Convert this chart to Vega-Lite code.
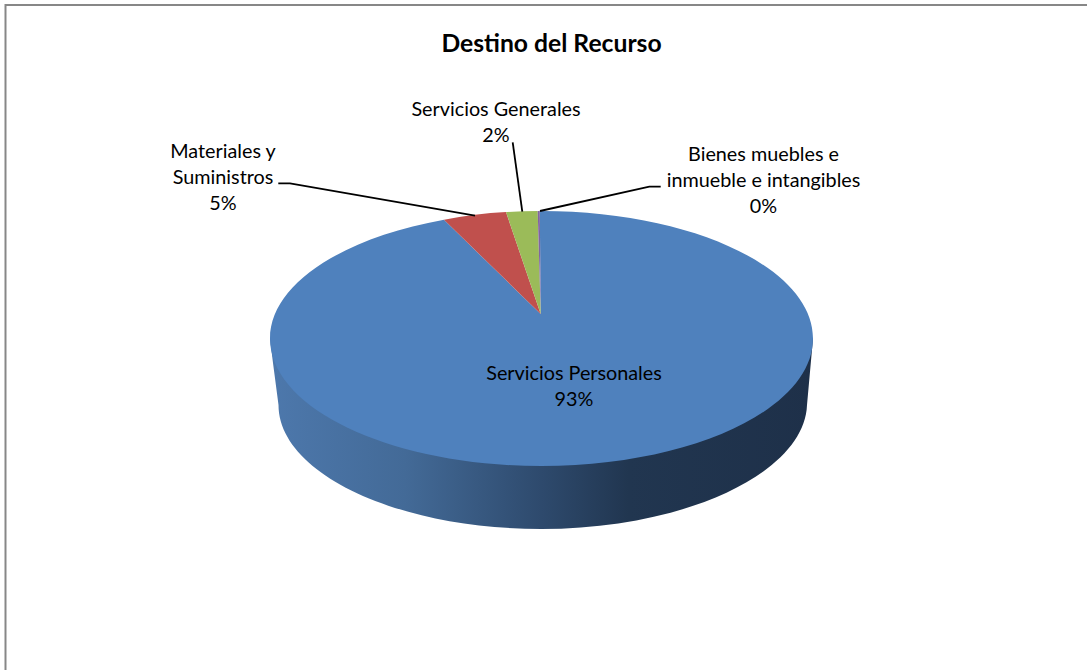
{
  "$schema": "https://vega.github.io/schema/vega-lite/v6.json",
  "width": 1087,
  "height": 670,
  "padding": 0,
  "autosize": {"type": "none"},
  "background": "white",
  "view": {"stroke": null},
  "title": {"text": "Destino del Recurso", "anchor": "middle", "offset": -52, "dx": 8, "dy": 25, "font": "Lato", "fontSize": 24.7, "fontWeight": "bold", "color": "#000000", "baseline": "alphabetic"},
  "config": {"text": {"font": "Lato", "fontSize": 19.8, "lineBreak": "\n", "lineHeight": 26, "color": "#000000", "align": "center", "baseline": "alphabetic"}},
  "datasets": {
    "slices": [
      {"category": "Servicios Personales", "share": 93, "label": "Servicios Personales\n93%"},
      {"category": "Materiales y Suministros", "share": 5, "label": "Materiales y\nSuministros\n5%"},
      {"category": "Servicios Generales", "share": 2, "label": "Servicios Generales\n2%"},
      {"category": "Bienes muebles e inmueble e intangibles", "share": 0, "label": "Bienes muebles e\ninmueble e intangibles\n0%"}
    ]
  },
  "data": {"name": "slices"},
  "resolve": {"scale": {"shape": "independent", "color": "independent"}},
  "layer": [
    {
      "data": {"values": [{"part": "chart frame"}]},
      "mark": {"type": "point", "size": 4, "opacity": 1, "filled": false, "stroke": "#878787", "strokeWidth": 2, "shape": "M-538,340L-538,-330L544,-330"},
      "encoding": {}
    },
    {
      "data": {"values": [{"part": "pie side wall"}]},
      "mark": {
        "type": "point", "size": 4, "opacity": 1, "filled": true, "strokeWidth": 0,
        "shape": "M-273.5,3.5L-270.5,28L-265,70C-265,138,-147,194,-2,194C141,194,261,138,263.5,70L269.5,3.5Z",
        "fill": {"gradient": "linear", "x1": 0, "y1": 0, "x2": 1, "y2": 0, "stops": [
          {"offset": 0, "color": "#4d78ac"},
          {"offset": 0.25, "color": "#436a97"},
          {"offset": 0.5, "color": "#2e4a6d"},
          {"offset": 0.66, "color": "#213650"},
          {"offset": 1, "color": "#1e3049"}
        ]}
      },
      "encoding": {}
    },
    {
      "mark": {"type": "point", "size": 4, "opacity": 1, "filled": true, "strokeWidth": 0},
      "encoding": {
        "shape": {"field": "category", "type": "nominal", "legend": null, "scale": {
          "domain": ["Servicios Personales", "Materiales y Suministros", "Servicios Generales", "Bienes muebles e inmueble e intangibles"],
          "range": [
            "M-2.8,-21L-3.7,-124L-2,-124C148,-124,269.5,-66.9,269.5,3.5C269.5,73.9,148,131,-2,131C-152,131,-273.5,73.9,-273.5,3.5C-273.5,-49.3,-204.4,-96.25,-99.5,-115.2Z",
            "M-2.8,-21L-99.5,-115.2Q-68.5,-121.2,-37.5,-122.9Z",
            "M-2.8,-21L-37.5,-122.9Q-21.5,-124,-5.8,-124Z",
            "M-2.8,-21L-5.8,-124L-3.7,-124Z"
          ]
        }},
        "color": {"field": "category", "type": "nominal", "legend": null, "scale": {
          "domain": ["Servicios Personales", "Materiales y Suministros", "Servicios Generales", "Bienes muebles e inmueble e intangibles"],
          "range": ["#4f81bd", "#c0504d", "#9bbb59", "#8064a2"]
        }}
      }
    },
    {
      "transform": [{"filter": "datum.share < 50"}],
      "mark": {"type": "point", "size": 4, "opacity": 1, "filled": false, "stroke": "#000000", "strokeWidth": 1.8},
      "encoding": {
        "shape": {"field": "category", "type": "nominal", "legend": null, "scale": {
          "domain": ["Materiales y Suministros", "Servicios Generales", "Bienes muebles e inmueble e intangibles"],
          "range": [
            "M-265.2,-151.7L-253.5,-151.7L-68.5,-119.3",
            "M-30.8,-192.7L-21.2,-123.3",
            "M117.2,-148.3L105.8,-148.3L-3.5,-124"
          ]
        }}
      }
    },
    {"transform": [{"filter": "datum.share == 93"}], "mark": {"type": "text", "dx": 30.5, "dy": 45}, "encoding": {"text": {"field": "label"}}},
    {"transform": [{"filter": "datum.share == 5"}], "mark": {"type": "text", "dx": -320.5, "dy": -177}, "encoding": {"text": {"field": "label"}}},
    {"transform": [{"filter": "datum.share == 2"}], "mark": {"type": "text", "dx": -47.5, "dy": -219}, "encoding": {"text": {"field": "label"}}},
    {"transform": [{"filter": "datum.share == 0"}], "mark": {"type": "text", "dx": 220, "dy": -174}, "encoding": {"text": {"field": "label"}}}
  ]
}
